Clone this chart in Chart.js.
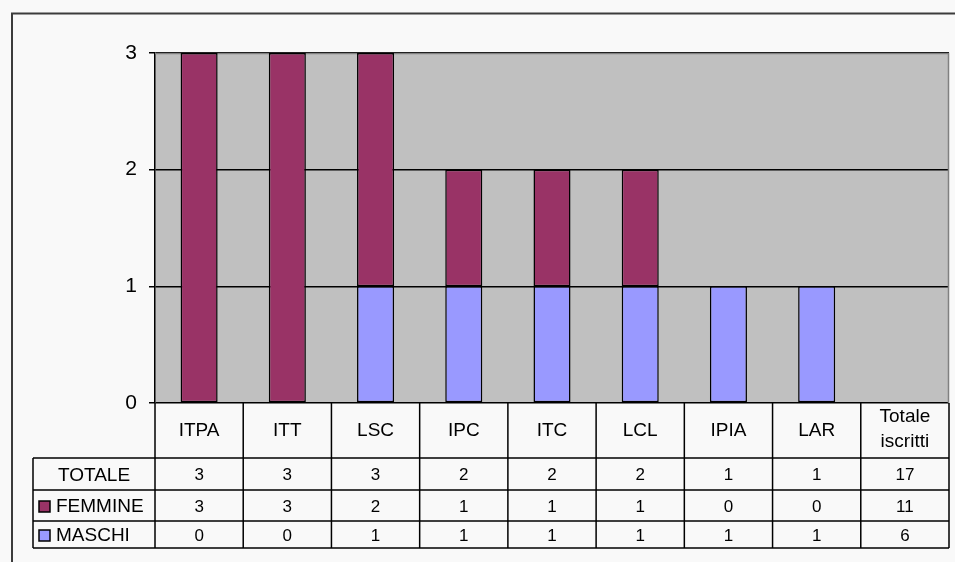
<!DOCTYPE html>
<html>
<head>
<meta charset="utf-8">
<script src="https://cdn.jsdelivr.net/npm/chart.js@4.4.1/dist/chart.umd.min.js"></script>
<style>
  html, body { margin: 0; padding: 0; background: #f9f9f9; }
  #wrap { width: 955px; height: 562px; }
</style>
</head>
<body>
<div id="wrap"><canvas id="c" width="955" height="562"></canvas></div>
<script>
// Iscritti per indirizzo di studio
const categories = ['ITPA', 'ITT', 'LSC', 'IPC', 'ITC', 'LCL', 'IPIA', 'LAR'];
const totalColumnLabel = ['Totale', 'iscritti'];
const femmine = [3, 3, 2, 1, 1, 1, 0, 0];
const maschi  = [0, 0, 1, 1, 1, 1, 1, 1];
const totale  = [3, 3, 3, 2, 2, 2, 1, 1];
// column "Totale iscritti": TOTALE, FEMMINE, MASCHI
const totaleIscritti = [17, 11, 6];
const yTicks = [0, 1, 2, 3];

const COL_F = '#993366';
const COL_M = '#9999ff';
const FONT = '"Liberation Sans", Arial, sans-serif';

// the last category is the totals column: listed in the table, no bar
const labels = categories.concat(['Totale iscritti']);
const barF = femmine.concat([null]);
const barM = maschi.concat([null]);

const frame = {
  id: 'frame',
  beforeDraw(chart) {
    const { ctx, chartArea: a } = chart;
    ctx.save();
    ctx.fillStyle = '#f9f9f9';
    ctx.fillRect(0, 0, chart.width, chart.height);
    // outer chart frame
    ctx.strokeStyle = '#3c3c3c';
    ctx.lineWidth = 2;
    ctx.beginPath();
    ctx.moveTo(12, chart.height);
    ctx.lineTo(12, 13.5);
    ctx.lineTo(chart.width, 13.5);
    ctx.stroke();
    // plot area
    ctx.fillStyle = '#c0c0c0';
    ctx.fillRect(a.left, a.top, a.right - a.left, a.bottom - a.top);
    ctx.restore();
  },
  beforeDatasetsDraw(chart) {
    const { ctx, chartArea: a } = chart;
    ctx.save();
    ctx.strokeStyle = '#808080';
    ctx.lineWidth = 1.5;
    ctx.beginPath();
    ctx.moveTo(a.left, a.top + 0.5);
    ctx.lineTo(a.right - 0.5, a.top + 0.5);
    ctx.lineTo(a.right - 0.5, a.bottom);
    ctx.stroke();
    ctx.restore();
  }
};

const dataTable = {
  id: 'dataTable',
  afterDraw(chart) {
    const { ctx, chartArea: a } = chart;
    const xs = chart.scales.x;
    const n = labels.length;
    const colW = (a.right - a.left) / n;
    const top = a.bottom;
    const rowY = [top + 55, top + 87, top + 118, top + 145];
    const left = 33;
    ctx.save();
    ctx.strokeStyle = '#000';
    ctx.lineWidth = 1.5;
    ctx.beginPath();
    // horizontal rules
    for (const y of rowY) {
      ctx.moveTo(left, y);
      ctx.lineTo(a.right, y);
    }
    // verticals
    for (let i = 0; i <= n; i++) {
      const x = a.left + i * colW;
      ctx.moveTo(x, top);
      ctx.lineTo(x, rowY[3]);
    }
    ctx.moveTo(left, rowY[0]);
    ctx.lineTo(left, rowY[3]);
    ctx.stroke();

    ctx.fillStyle = '#000';
    ctx.textAlign = 'center';
    ctx.textBaseline = 'middle';
    // header
    ctx.font = '19px ' + FONT;
    categories.forEach((c, i) => {
      ctx.fillText(c, xs.getPixelForValue(i), top + 28);
    });
    const xt = xs.getPixelForValue(n - 1);
    ctx.fillText(totalColumnLabel[0], xt, top + 14);
    ctx.fillText(totalColumnLabel[1], xt, top + 39);

    // rows
    const rows = [
      { name: 'TOTALE', vals: totale, tot: totaleIscritti[0], key: null },
      { name: 'FEMMINE', vals: femmine, tot: totaleIscritti[1], key: COL_F },
      { name: 'MASCHI', vals: maschi, tot: totaleIscritti[2], key: COL_M }
    ];
    rows.forEach((r, k) => {
      const cy = (rowY[k] + rowY[k + 1]) / 2 + 1.5;
      ctx.font = '19px ' + FONT;
      if (r.key) {
        ctx.fillStyle = r.key;
        ctx.fillRect(39, cy - 6, 11, 11);
        ctx.strokeStyle = '#000';
        ctx.lineWidth = 1.5;
        ctx.strokeRect(39, cy - 6, 11, 11);
        ctx.fillStyle = '#000';
        ctx.textAlign = 'left';
        ctx.fillText(r.name, 56, cy);
      } else {
        ctx.textAlign = 'center';
        ctx.fillText(r.name, (left + a.left) / 2, cy);
      }
      ctx.textAlign = 'center';
      ctx.font = '17px ' + FONT;
      r.vals.forEach((v, i) => ctx.fillText(String(v), xs.getPixelForValue(i), cy));
      ctx.fillText(String(r.tot), xt, cy);
    });
    ctx.restore();
  }
};

new Chart(document.getElementById('c'), {
  type: 'bar',
  data: {
    labels: labels,
    datasets: [
      { label: 'MASCHI', data: barM, backgroundColor: COL_M, borderColor: '#000', borderWidth: 1.5, borderSkipped: false },
      { label: 'FEMMINE', data: barF, backgroundColor: COL_F, borderColor: '#000', borderWidth: 1.5, borderSkipped: false }
    ]
  },
  options: {
    responsive: false,
    animation: false,
    events: [],
    layout: { padding: { left: 0, right: 6, top: 53, bottom: 159 } },
    datasets: { bar: { barPercentage: 0.42, categoryPercentage: 1 } },
    plugins: { legend: { display: false }, tooltip: { enabled: false } },
    scales: {
      x: {
        stacked: true,
        display: false
      },
      y: {
        stacked: true,
        min: yTicks[0],
        max: yTicks[yTicks.length - 1],
        afterBuildTicks(scale) { scale.ticks = yTicks.map(v => ({ value: v })); },
        afterFit(scale) { scale.width = 155; },
        grid: { color: '#000', lineWidth: 1.5, tickLength: 6, drawTicks: true },
        border: { color: '#000', width: 1.5 },
        ticks: { color: '#000', padding: 12, font: { family: FONT, size: 21 } }
      }
    }
  },
  plugins: [frame, dataTable]
});
</script>
</body>
</html>
